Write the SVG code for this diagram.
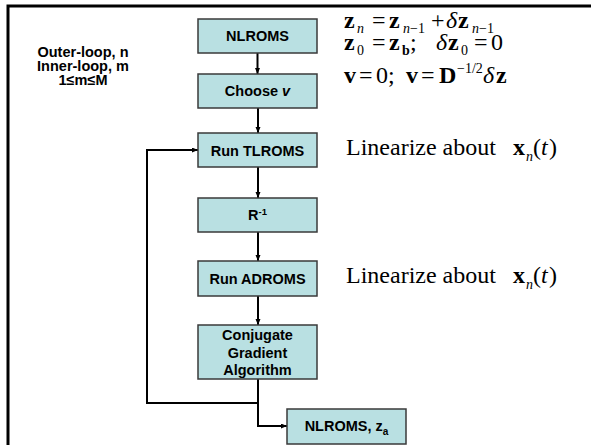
<svg xmlns="http://www.w3.org/2000/svg" width="591" height="445" viewBox="0 0 591 445">
<defs>
<style>
.box{fill:#B9E0E2;stroke:#3a3a3a;stroke-width:1.5}
.lbl{font-family:"Liberation Sans",Arial,sans-serif;font-weight:bold;font-size:14.5px;fill:#000;text-anchor:middle}
.note{font-family:"Liberation Sans",Arial,sans-serif;font-weight:bold;font-size:14.5px;fill:#000;text-anchor:middle}
.m{font-family:"Liberation Serif","Times New Roman",serif;font-size:24px;fill:#000}
.b{font-weight:bold}
.i{font-style:italic}
.s{font-size:14px}
.conn{fill:none;stroke:#000;stroke-width:2}
</style>
<marker id="arr" markerUnits="userSpaceOnUse" markerWidth="7" markerHeight="6" refX="6" refY="2.5" orient="auto">
<path d="M0,0 L6,2.5 L0,5 z" fill="#000"/>
</marker>
</defs>
<rect width="591" height="445" fill="#fff"/>
<rect x="8" y="6" width="600" height="460" fill="none" stroke="#000" stroke-width="3"/>

<g id="notes">
<text class="note" x="83" y="57">Outer-loop, n</text>
<text class="note" x="83" y="71">Inner-loop, m</text>
<text class="note" x="83" y="85">1≤m≤M</text>
</g>

<g id="connectors">
<path class="conn" d="M257.5,53 V74" stroke-width="1" marker-end="url(#arr)"/>
<path class="conn" d="M258,108 V133" marker-end="url(#arr)"/>
<path class="conn" d="M258,167 V198" marker-end="url(#arr)"/>
<path class="conn" d="M258,232 V261" marker-end="url(#arr)"/>
<path class="conn" d="M258,296 V325" marker-end="url(#arr)"/>
<path class="conn" d="M258,379 V426 H287" marker-end="url(#arr)"/>
<path class="conn" d="M258,403 H147 V150 H198" marker-end="url(#arr)"/>
</g>

<g id="n1"><rect class="box" x="198" y="19" width="119" height="34"/><text class="lbl" x="257.5" y="41">NLROMS</text></g>
<g id="n2"><rect class="box" x="198" y="74" width="119" height="34"/><text class="lbl" x="257.5" y="96">Choose <tspan font-style="italic">v</tspan></text></g>
<g id="n3"><rect class="box" x="198" y="133" width="119" height="34"/><text class="lbl" x="257.5" y="156">Run TLROMS</text></g>
<g id="n4"><rect class="box" x="198" y="198" width="119" height="34"/><text class="lbl" x="257.5" y="220">R<tspan font-size="9.5px" dy="-5">-1</tspan></text></g>
<g id="n5"><rect class="box" x="198" y="261" width="119" height="35"/><text class="lbl" x="257.5" y="284">Run ADROMS</text></g>
<g id="n6"><rect class="box" x="198" y="325" width="119" height="54"/>
<text class="lbl" x="257.5" y="340">Conjugate</text>
<text class="lbl" x="257.5" y="357.5">Gradient</text>
<text class="lbl" x="257.5" y="375">Algorithm</text></g>
<g id="n7"><rect class="box" x="287" y="409" width="119" height="35"/><text class="lbl" x="346.5" y="431">NLROMS, z<tspan font-size="10px" dy="4">a</tspan></text></g>

<g id="equations">
<text class="m"><tspan class="b" x="344" y="28">z</tspan><tspan class="s i" x="357" y="33">n</tspan><tspan x="372" y="28">=</tspan><tspan class="b" x="389" y="28">z</tspan><tspan class="s i" x="403" y="33">n</tspan><tspan class="s" x="410" y="33">−1</tspan><tspan x="431" y="28">+</tspan><tspan class="i" x="446" y="28">δ</tspan><tspan class="b" x="458" y="28">z</tspan><tspan class="s i" x="472" y="33">n</tspan><tspan class="s" x="479" y="33">−1</tspan></text>
<text class="m"><tspan class="b" x="344" y="50">z</tspan><tspan class="s" x="357" y="55">0</tspan><tspan x="372" y="50">=</tspan><tspan class="b" x="389" y="50">z</tspan><tspan class="s b" x="402" y="55">b</tspan><tspan x="410" y="50">;</tspan><tspan class="i" x="436" y="50">δ</tspan><tspan class="b" x="448" y="50">z</tspan><tspan class="s" x="461" y="55">0</tspan><tspan x="474" y="50">=</tspan><tspan x="491" y="50">0</tspan></text>
<text class="m"><tspan class="b" x="344" y="83">v</tspan><tspan x="359" y="83">=</tspan><tspan x="376" y="83">0;</tspan><tspan class="b" x="406" y="83">v</tspan><tspan x="421" y="83">=</tspan><tspan class="b" x="439" y="83">D</tspan><tspan class="s" x="457" y="73">−1/2</tspan><tspan class="i" x="483" y="83">δ</tspan><tspan class="b" x="496" y="83">z</tspan></text>
<text class="m"><tspan x="346" y="155">Linearize about</tspan><tspan class="b" x="513" y="155">x</tspan><tspan class="s i" x="526" y="161">n</tspan><tspan x="533" y="155">(</tspan><tspan class="i" x="541" y="155">t</tspan><tspan x="549" y="155">)</tspan></text>
<text class="m"><tspan x="346" y="283">Linearize about</tspan><tspan class="b" x="513" y="283">x</tspan><tspan class="s i" x="526" y="289">n</tspan><tspan x="533" y="283">(</tspan><tspan class="i" x="541" y="283">t</tspan><tspan x="549" y="283">)</tspan></text>
</g>
</svg>
